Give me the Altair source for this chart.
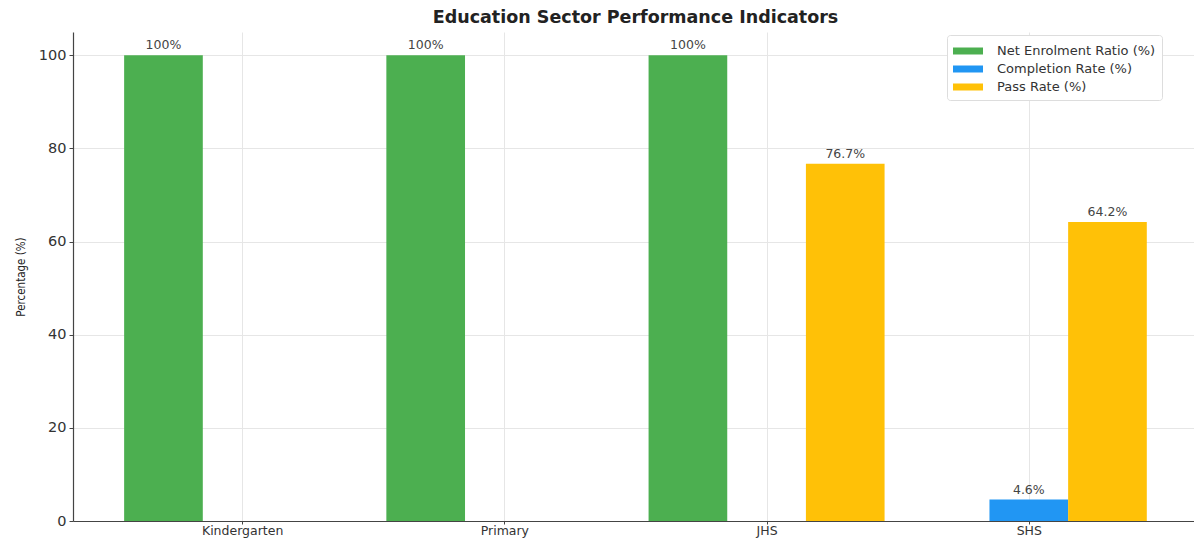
import altair as alt
import pandas as pd

categories = ["Kindergarten", "Primary", "JHS", "SHS"]
series_names = ["Net Enrolment Ratio (%)", "Completion Rate (%)", "Pass Rate (%)"]
net_enrolment = [100, 100, 100, 0]
completion = [0, 0, 0, 4.6]
pass_rate = [0, 0, 76.7, 64.2]
colors = ["#4CAF50", "#2196F3", "#FFC107"]

bar_w = 0.3
rows = []
for s, (name, vals) in enumerate(zip(series_names, [net_enrolment, completion, pass_rate])):
    for i, (cat, v) in enumerate(zip(categories, vals)):
        center = i + (s - 1) * bar_w
        rows.append({
            "category": cat,
            "series": name,
            "value": v,
            "x0": center - bar_w / 2,
            "x1": center + bar_w / 2,
            "xc": center,
            "label": f"{v:g}%" if v > 0 else "",
        })
df = pd.DataFrame(rows)

font = "DejaVu Sans"
xdom = [-0.645, 3.63]
label_expr = "[" + ",".join(f"'{c}'" for c in categories) + "][datum.value]"

xscale = alt.Scale(domain=xdom, nice=False, zero=False)
yscale = alt.Scale(domain=[0, 105], nice=False)

base = alt.Chart(df).transform_filter("datum.value > 0")

bars = base.mark_bar().encode(
    x=alt.X("x0:Q", scale=xscale,
            axis=alt.Axis(values=[0, 1, 2, 3], labelExpr=label_expr, title=None,
                          grid=True, labelFontSize=12.5, labelFont=font, labelColor="#333",
                          tickSize=3, tickColor="#444", domainColor="#444",
                          labelPadding=0, gridColor="#e6e6e6")),
    x2="x1:Q",
    y=alt.Y("value:Q", scale=yscale,
            axis=alt.Axis(values=[0, 20, 40, 60, 80, 100], title="Percentage (%)",
                          grid=True, labelFontSize=14.5, labelFont=font, labelColor="#333",
                          titleFont="DejaVu Sans Condensed, DejaVu Sans",
                          titleFontSize=11.5, titleFontWeight="normal", titleColor="#222",
                          titlePadding=12, tickSize=4, tickColor="#444", domainColor="#444",
                          labelPadding=3, gridColor="#e6e6e6")),
    y2=alt.datum(0),
    color=alt.Color("series:N", scale=alt.Scale(domain=series_names, range=colors),
                    legend=alt.Legend(title=None, orient="none", legendX=874, legendY=3,
                                      symbolType="M-1,-0.35H2V0.35H-1Z", symbolSize=400,
                                      symbolStrokeWidth=0, labelFont=font, labelFontSize=13,
                                      labelLimit=400, labelColor="#333", fillColor="white",
                                      strokeColor="#dddddd", padding=6, cornerRadius=3,
                                      rowPadding=1, labelOffset=24)),
)

text = base.mark_text(
    baseline="bottom", dy=-3, font=font, fontSize=12.5, color="#444"
).encode(
    x=alt.X("xc:Q", scale=xscale),
    y=alt.Y("value:Q", scale=yscale),
    text="label:N",
)

chart = alt.layer(bars, text).properties(
    width=1121, height=489,
    title=alt.Title("Education Sector Performance Indicators", font=font, fontSize=17.5,
                    fontWeight="bold", color="#222", offset=6, dx=2),
    autosize=alt.AutoSizeParams(type="none"),
    padding={"left": 73, "top": 32, "right": 0, "bottom": 17},
).configure_view(stroke=None).configure_axis(domainWidth=1.2)

chart.save("out.html", embed_options={"renderer": "svg", "actions": False})
